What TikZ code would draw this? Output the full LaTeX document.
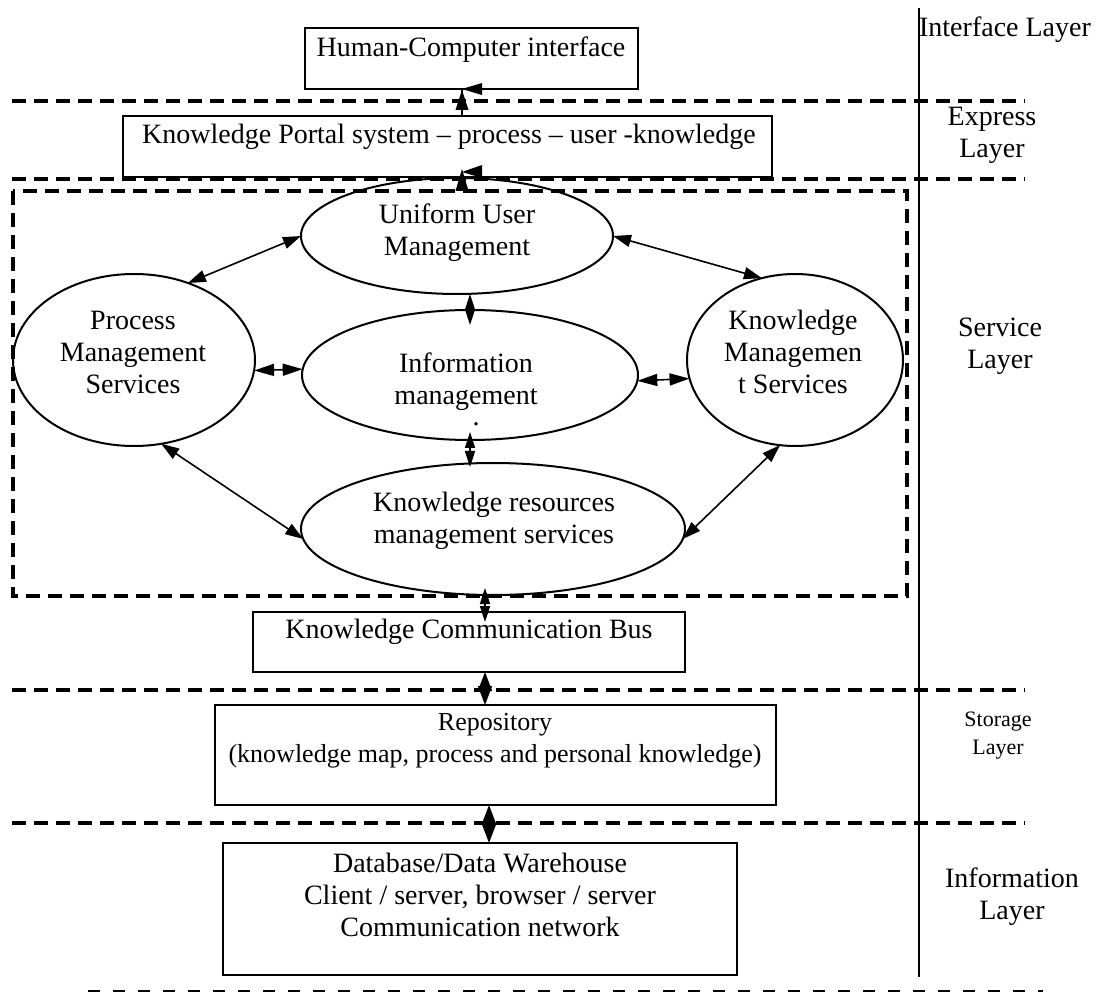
\documentclass[tikz,border=0pt]{standalone}
\usepackage{fontspec}
\setmainfont{Liberation Serif}
\usetikzlibrary{arrows.meta,shapes.geometric}
\begin{document}
\begin{tikzpicture}[x=0.5pt,y=-0.5pt,
  every node/.style={inner sep=0pt, outer sep=0pt},
  lbl/.style={font=\fontsize{14}{16}\selectfont, align=center},
  repolbl/.style={font=\fontsize{13}{16}\selectfont, align=center},
  smalllbl/.style={font=\fontsize{11}{14}\selectfont, align=center},
  box/.style={draw, line width=1pt, rectangle},
  ell/.style={draw, line width=1pt, ellipse},
  layerline/.style={line width=1.6pt, dash pattern=on 7pt off 4pt},
  endline/.style={line width=1pt, dash pattern=on 6pt off 6.5pt},
  conn/.style={line width=0.8pt, {Triangle[length=9pt,width=6pt]}-{Triangle[length=9pt,width=6pt]}},
  shortconn/.style={line width=0.8pt, {Triangle[length=10pt,width=6pt]}-{Triangle[length=10pt,width=6pt]}},
  vconn/.style={line width=0.8pt, {Triangle[length=8pt,width=5pt]}-{Triangle[length=8pt,width=5pt]}},
  bigconn/.style={line width=0.8pt, {Triangle[length=9.5pt,width=7pt]}-{Triangle[length=9.5pt,width=7pt]}},
  thinline/.style={line width=0.8pt},
]
\useasboundingbox (0,0) rectangle (1098,994);

% vertical separator
\coordinate (vtop) at (919,8);
\coordinate (vbot) at (919,977);
\draw[line width=1pt] (vtop) -- (vbot);

% layer separators
\coordinate (dA1) at (12,101);  \coordinate (dA2) at (1025,101);
\coordinate (dB1) at (12,179);  \coordinate (dB2) at (1025,179);
\coordinate (dC1) at (12,690);  \coordinate (dC2) at (1025,690);
\coordinate (dD1) at (12,823);  \coordinate (dD2) at (1025,823);
\coordinate (dE1) at (88,991);  \coordinate (dE2) at (1043,991);
\draw[layerline] (dA1) -- (dA2);
\draw[layerline] (dB1) -- (dB2);
\draw[layerline] (dC1) -- (dC2);
\draw[layerline] (dD1) -- (dD2);
\draw[endline] (dE1) -- (dE2);

% service layer frame
\coordinate (sv1) at (13,191);
\coordinate (sv2) at (907,596);
\draw[layerline] (sv1) rectangle (sv2);

% layer labels
\node[lbl] (l1) at (1005,30) {Interface Layer};
\node[lbl] (l2) at (992,135) {Express\\Layer};
\node[lbl] (l3) at (1000,346) {Service\\Layer};
\node[smalllbl] (l4) at (998,736) {Storage\\Layer};
\node[lbl] (l5) at (1012,897) {Information\\Layer};

% boxes
\node[box, minimum width=166.5pt, minimum height=30.5pt] (hc) at (471.5,58.5) {};
\node[lbl] (hct) at (471,50) {Human-Computer interface};
\node[box, minimum width=324.5pt, minimum height=30.5pt] (portal) at (447.5,146.5) {};
\node[lbl] (portalt) at (449,137) {Knowledge Portal system -- process -- user -knowledge};
\node[box, minimum width=216pt, minimum height=30pt] (bus) at (469,642) {};
\node[lbl] (bust) at (469,632) {Knowledge Communication Bus};
\node[box, minimum width=280.5pt, minimum height=50pt] (repo) at (495.5,755) {};
\node[repolbl] (repot) at (495,741) {Repository\\(knowledge map, process and personal knowledge)};
\node[box, minimum width=257pt, minimum height=66pt] (db) at (480,909) {};
\node[lbl] (dbt) at (480,895) {Database/Data Warehouse\\Client / server, browser / server\\Communication network};

% ellipses
\node[ell, minimum width=156pt, minimum height=58pt] (uum) at (457,236) {};
\node[lbl] (uumt) at (457,233) {Uniform User\\Management};
\node[ell, minimum width=121pt, minimum height=86pt] (pms) at (134,360) {};
\node[lbl] (pmst) at (133,352) {Process\\Management\\Services};
\node[ell, minimum width=168pt, minimum height=65pt] (im) at (470,375) {};
\node[lbl, anchor=north] (imt) at (466,353) {Information\\management\\[-5.75pt]\hspace*{10pt}.};
\node[ell, minimum width=108pt, minimum height=86pt] (kms) at (795,360) {};
\node[lbl] (kmst) at (793,352) {Knowledge\\Managemen\\t Services};
\node[ell, minimum width=192pt, minimum height=66pt] (kr) at (493,529) {};
\node[lbl] (krt) at (494,521) {Knowledge resources\\management services};

% connectors between ellipses
\draw[conn] (uum.west) -- (pms.55);
\draw[conn] (uum.east) -- (kms.112);
\draw[shortconn] (pms.-5) -- (im.178);
\draw[shortconn] (im.-2) -- (kms.190);
\draw[conn] (pms.-72) -- (kr.183);
\draw[conn] (kms.-100) -- (kr.-3);
\coordinate (ix) at (470,0);
\draw[vconn] (uum.south -| ix) -- ([yshift=-7.5pt]im.north);
\draw[vconn] ([yshift=4pt]im.south) -- ([yshift=-2pt]kr.north -| ix);

% up arrows to portal and interface
\coordinate (ax) at (462,0);
\draw[thinline] (uum.north -| ax) -- (portal.south -| ax);
\fill (462,169) -- (455.5,191) -- (468.5,191) -- cycle;
\fill (462,172) -- (482,165) -- (482,178) -- cycle;
\draw[thinline] (portal.north -| ax) -- (hc.south -| ax);
\fill (462,90) -- (455.5,110) -- (468.5,110) -- cycle;
\fill (462,89) -- (482,83) -- (482,95) -- cycle;

% lower vertical connectors
\coordinate (bx) at (485,0);
\coordinate (cx) at (489,0);
\draw[vconn] ([yshift=3.5pt]kr.south -| bx) -- ([yshift=-5pt]bus.north -| bx);
\draw[bigconn] (bus.south -| bx) -- (repo.north -| bx);
\draw[bigconn] (repo.south -| cx) -- (db.north -| cx);
\end{tikzpicture}
\end{document}
